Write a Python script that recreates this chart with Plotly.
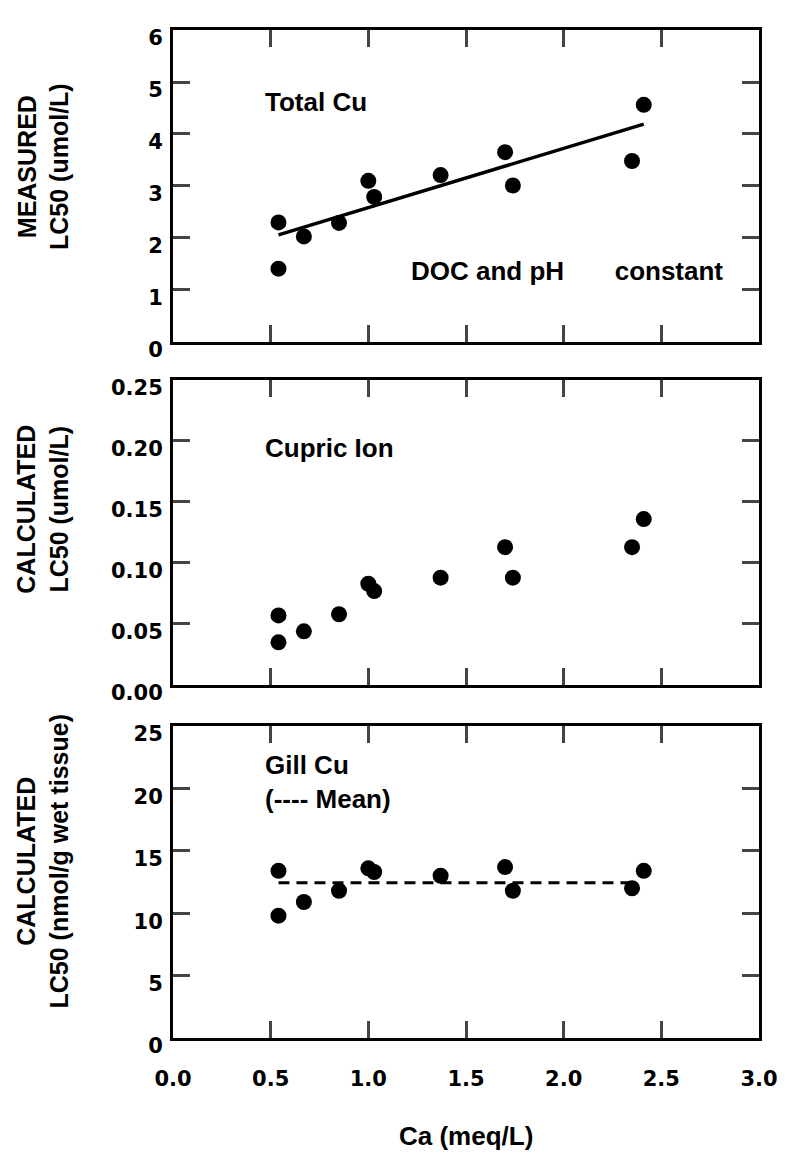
import plotly.graph_objects as go

# Ca concentration (meq/L) for each test
ca = [0.54, 0.54, 0.67, 0.85, 1.00, 1.03, 1.37, 1.70, 1.74, 2.35, 2.41]

# measured total Cu LC50 (umol/L)
total_cu = [2.30, 1.41, 2.03, 2.29, 3.10, 2.79, 3.21, 3.65, 3.01, 3.48, 4.56]
# calculated cupric ion LC50 (umol/L)
cupric = [0.057, 0.035, 0.044, 0.058, 0.083, 0.077, 0.088, 0.113, 0.088, 0.113, 0.136]
# calculated gill Cu LC50 (nmol/g wet tissue)
gill_cu = [13.4, 9.8, 10.9, 11.8, 13.6, 13.3, 13.0, 13.7, 11.8, 12.0, 13.4]

# regression line through total Cu, and mean of gill Cu
fit_x = [0.54, 2.41]
fit_y = [2.06, 4.19]
mean_x = [0.54, 2.35]
mean_y = [12.45, 12.45]

x_ticks = [0.0, 0.5, 1.0, 1.5, 2.0, 2.5, 3.0]
y1_ticks = [0, 1, 2, 3, 4, 5, 6]
y2_ticks = [0.00, 0.05, 0.10, 0.15, 0.20, 0.25]
y3_ticks = [0, 5, 10, 15, 20, 25]

TICK_FONT = dict(family='DejaVu Sans', size=21, color='black', weight='bold')
TXT_FONT = dict(family='Liberation Sans', size=26, color='black')
TITLE_FONT = dict(family='Liberation Sans', size=25, color='black')

dot = dict(size=16, color='black')

data = [
    go.Scatter(x=ca, y=total_cu, mode='markers', marker=dot, xaxis='x', yaxis='y'),
    go.Scatter(x=fit_x, y=fit_y, mode='lines', line=dict(color='black', width=3.5),
               xaxis='x', yaxis='y'),
    go.Scatter(x=ca, y=cupric, mode='markers', marker=dot, xaxis='x2', yaxis='y2'),
    go.Scatter(x=ca, y=gill_cu, mode='markers', marker=dot, xaxis='x3', yaxis='y3'),
    go.Scatter(x=mean_x, y=mean_y, mode='lines',
               line=dict(color='black', width=3, dash='11px,7px'),
               xaxis='x3', yaxis='y3'),
]


def xax(anchor, labels):
    return dict(
        range=[0, 3], tickvals=x_ticks, ticktext=['%.1f' % v for v in x_ticks],
        showticklabels=labels, ticks='inside', ticklen=17, tickwidth=2.5,
        showline=True, linewidth=3, linecolor='black', mirror='ticks',
        showgrid=False, zeroline=False, anchor=anchor, domain=[0, 1],
        tickfont=dict(family='DejaVu Sans', size=21, color='black', weight='bold'),
        ticklabelstandoff=20,
    )


def yax(rng, vals, fmt, dom, anchor):
    return dict(
        range=rng, tickvals=vals, ticktext=[fmt % v for v in vals],
        ticks='inside', ticklen=17, tickwidth=2.5,
        showline=True, linewidth=3, linecolor='black', mirror='ticks',
        showgrid=False, zeroline=False, anchor=anchor, domain=dom,
        tickfont=TICK_FONT, ticklabelshift=8, ticklabelstandoff=3,
    )


def note(text, x, y, xref, yref, **kw):
    d = dict(text=text, x=x, y=y, xref=xref, yref=yref, showarrow=False,
             xanchor='left', yanchor='middle', align='left', font=TXT_FONT)
    d.update(kw)
    return d


gap = '\u00a0' * 7

annotations = [
    note('<b>Total Cu</b>', 0.46, 4.62, 'x', 'y'),
    note('<b>DOC and pH' + gap + 'constant</b>', 1.21, 1.37, 'x', 'y'),
    note('<b>Cupric Ion</b>', 0.46, 0.194, 'x2', 'y2'),
    note('<b>Gill Cu<br>(---- Mean)</b>', 0.46, 20.5, 'x3', 'y3'),
    # y axis titles
    note('<b>MEASURED<br>LC50 (umol/L)</b>', -0.222, 0.865, 'paper', 'paper',
         xanchor='center', align='center', textangle=-90, font=TITLE_FONT),
    note('<b>CALCULATED<br>LC50 (umol/L)</b>', -0.222, 0.525, 'paper', 'paper',
         xanchor='center', align='center', textangle=-90, font=TITLE_FONT),
    note('<b>CALCULATED<br>LC50 (nmol/g wet tissue)</b>', -0.222, 0.175, 'paper', 'paper',
         xanchor='center', align='center', textangle=-90, font=TITLE_FONT),
    # x axis title
    note('<b>Ca (meq/L)</b>', 0.5, -0.097, 'paper', 'paper', xanchor='center',
         align='center', font=dict(family='Liberation Sans', size=26, color='black')),
]

# the page body adds an 8px margin, so the figure is a little smaller than the window
layout = dict(
    width=782, height=1146,
    margin=dict(l=165, r=20, t=22, b=116),
    paper_bgcolor='white', plot_bgcolor='white',
    showlegend=False,
    xaxis=xax('y', False),
    xaxis2=xax('y2', False),
    xaxis3=xax('y3', True),
    yaxis=yax([0, 6], y1_ticks, '%d', [0.6905, 1.0], 'x'),
    yaxis2=yax([0, 0.25], y2_ticks, '%.2f', [0.3502, 0.6528], 'x2'),
    yaxis3=yax([0, 25], y3_ticks, '%d', [0.0, 0.3095], 'x3'),
    annotations=annotations,
)

fig = go.Figure(data=data, layout=layout)
fig.write_html('out.html')
